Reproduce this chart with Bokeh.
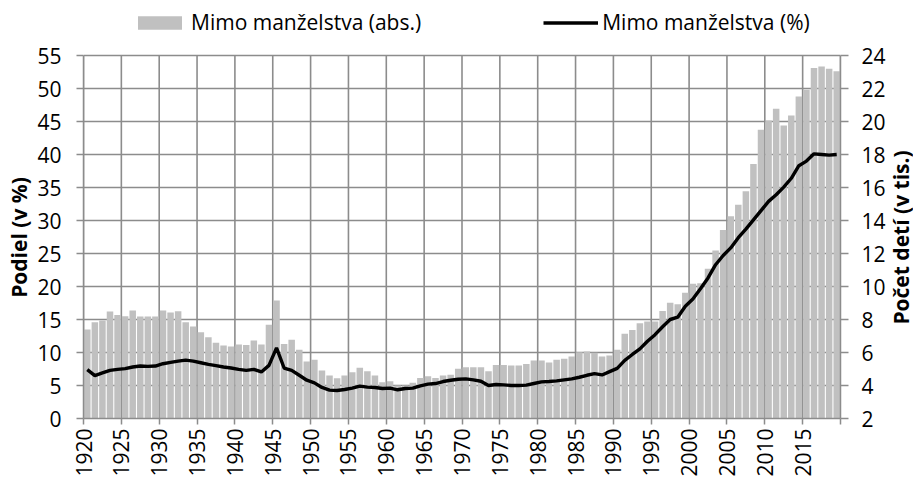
import math
from bokeh.plotting import figure
from bokeh.layouts import row
from bokeh.models import (Range1d, LinearAxis, FixedTicker, Legend, LegendItem, Label, ColumnDataSource)
from bokeh.embed import file_html
from bokeh.resources import INLINE

years = list(range(1920, 2020))

pct = [7.4, 6.5, 6.9, 7.3, 7.45, 7.55, 7.8, 7.95, 7.9, 7.95,
       8.3, 8.5, 8.7, 8.85, 8.7, 8.45, 8.2, 8.0, 7.8, 7.65,
       7.45, 7.3, 7.45, 7.05, 8.05, 10.7, 7.65, 7.3, 6.55, 5.8,
       5.4, 4.7, 4.3, 4.25, 4.4, 4.6, 4.9, 4.75, 4.7, 4.55,
       4.6, 4.35, 4.55, 4.6, 4.95, 5.2, 5.3, 5.6, 5.8, 5.95,
       6.0, 5.85, 5.65, 5.0, 5.15, 5.1, 5.0, 5.0, 5.05, 5.3,
       5.55, 5.6, 5.7, 5.85, 6.0, 6.25, 6.55, 6.8, 6.6, 7.1,
       7.6, 8.8, 9.7, 10.55, 11.7, 12.7, 13.9, 15.0, 15.35, 17.0,
       18.1, 19.65, 21.3, 23.3, 24.7, 25.85, 27.4, 28.7, 30.1, 31.5,
       32.9, 33.9, 35.05, 36.4, 38.3, 39.0, 40.1, 40.0, 39.9, 40.0]

abs_k = [7.39, 7.84, 7.94, 8.48, 8.28, 8.2, 8.55, 8.18, 8.18, 8.18,
         8.55, 8.42, 8.5, 7.84, 7.58, 7.23, 6.93, 6.59, 6.42, 6.36,
         6.48, 6.45, 6.73, 6.48, 7.68, 9.15, 6.52, 6.77, 6.16, 5.45,
         5.56, 4.91, 4.61, 4.44, 4.6, 4.81, 5.07, 4.87, 4.6, 4.2,
         4.26, 4.0, 4.0, 4.16, 4.46, 4.56, 4.46, 4.6, 4.65, 5.01,
         5.11, 5.11, 5.11, 4.87, 5.25, 5.25, 5.21, 5.21, 5.31, 5.52,
         5.52, 5.39, 5.56, 5.62, 5.76, 6.02, 6.06, 5.98, 5.76, 5.82,
         6.16, 7.13, 7.37, 7.78, 7.88, 7.88, 8.52, 9.02, 8.92, 9.62,
         10.16, 10.2, 11.07, 12.18, 13.43, 14.26, 14.95, 15.78, 17.43, 19.5,
         20.06, 20.77, 19.76, 20.36, 21.52, 21.92, 23.25, 23.33, 23.19, 23.05]

x_ticks = list(range(1920, 2021, 5))
left_ticks = list(range(0, 56, 5))
right_ticks = list(range(2, 25, 2))

label_abs = "Mimo manželstva (abs.)"
label_pct = "Mimo manželstva (%)"
title_left = "Podiel (v %)"
title_right = "Počet detí (v tis.)"

FONT = "Open Sans"
FS = "21px"
GRID = "#8c8c8c"
H = 484
LEFT_W, RIGHT_W = 34, 25
MAIN_W = 913 - LEFT_W - RIGHT_W
FL, FR, FT, FB = 82, 840, 55, 418   # chart plot area in page pixels (55 .. 0 on the left axis)

L_MIN, L_MAX = 0, 55
R_MIN, R_MAX = 2, 24
ext = FB / (FB - FT)          # frame reaches the canvas top so that the legend fits inside it
y_top = L_MIN + (L_MAX - L_MIN) * ext
r_top = R_MIN + (R_MAX - R_MIN) * ext

src = ColumnDataSource(dict(x=[y + 0.5 for y in years], pct=pct, abs_k=abs_k))

p = figure(width=MAIN_W, height=H, output_backend="svg", toolbar_location=None,
           x_range=Range1d(1920, 2020), y_range=Range1d(L_MIN, y_top),
           min_border_left=FL - LEFT_W, min_border_right=(LEFT_W + MAIN_W) - FR,
           min_border_top=0, min_border_bottom=H - FB)
p.extra_y_ranges = {"right": Range1d(R_MIN, r_top)}
p.outline_line_color = None
p.background_fill_color = "white"
p.border_fill_color = "white"

p.segment(x0=x_ticks, x1=x_ticks, y0=[L_MIN] * len(x_ticks), y1=[L_MAX] * len(x_ticks),
          line_color=GRID, line_width=1.6)

bars = p.vbar(x="x", top="abs_k", bottom=R_MIN, width=0.86, source=src,
              y_range_name="right", fill_color="#c0c0c0", line_color=None)
line = p.line(x="x", y="pct", source=src, line_color="black", line_width=3.4)

xa = p.xaxis[0]
xa.ticker = FixedTicker(ticks=x_ticks)
xa.major_label_overrides = {2020: ""}
xa.major_label_orientation = math.pi / 2
xa.major_tick_out = 6
xa.major_label_standoff = 4

ya = p.yaxis[0]
ya.ticker = FixedTicker(ticks=left_ticks)
ya.bounds = (L_MIN, L_MAX)
ya.major_tick_out = 7
ya.major_label_standoff = 15

ra = LinearAxis(y_range_name="right", ticker=FixedTicker(ticks=right_ticks))
ra.bounds = (R_MIN, R_MAX)
ra.major_tick_out = 8
ra.major_label_standoff = 13
p.add_layout(ra, "right")

for ax in (xa, ya, ra):
    ax.minor_tick_line_color = None
    ax.major_tick_in = 0
    ax.axis_line_color = GRID
    ax.major_tick_line_color = GRID
    ax.axis_line_width = 1.5
    ax.major_tick_line_width = 1.5
    ax.major_label_text_font = FONT
    ax.major_label_text_font_size = FS
    ax.major_label_text_color = "black"

p.xgrid.visible = False
p.ygrid.ticker = FixedTicker(ticks=left_ticks)
p.ygrid.grid_line_color = GRID
p.ygrid.grid_line_width = 1.6

legend = Legend(items=[LegendItem(label=label_abs, renderers=[bars]),
                       LegendItem(label=label_pct, renderers=[line])],
                orientation="horizontal", location=(49, 382),
                glyph_width=55, glyph_height=17, label_standoff=4, spacing=122,
                padding=0, margin=0, border_line_color=None, background_fill_alpha=0,
                label_text_font=FONT, label_text_font_size=FS, label_text_color="black")
p.add_layout(legend)


def title_panel(w, text, cx, cy):
    # frame spans page rows 0..FB; y range counts pixels from the top
    f = figure(width=w, height=H, output_backend="svg", toolbar_location=None,
               x_range=Range1d(0, w), y_range=Range1d(FB, 0),
               min_border_left=0, min_border_right=0, min_border_top=0,
               min_border_bottom=H - FB,
               x_axis_location=None, y_axis_location=None)
    f.outline_line_color = None
    f.grid.visible = False
    f.border_fill_color = "white"
    f.background_fill_color = "white"
    f.add_layout(Label(x=cx, y=cy, text=text, angle=math.pi / 2,
                       text_align="center", text_baseline="middle",
                       text_font=FONT, text_font_size=FS, text_font_style="bold",
                       text_color="black"))
    return f


left_panel = title_panel(LEFT_W, title_left, 18, 237)
right_panel = title_panel(RIGHT_W, title_right, 900 - (LEFT_W + MAIN_W), 237)

layout = row(left_panel, p, right_panel)
open("out.html", "w").write(file_html(layout, INLINE))
